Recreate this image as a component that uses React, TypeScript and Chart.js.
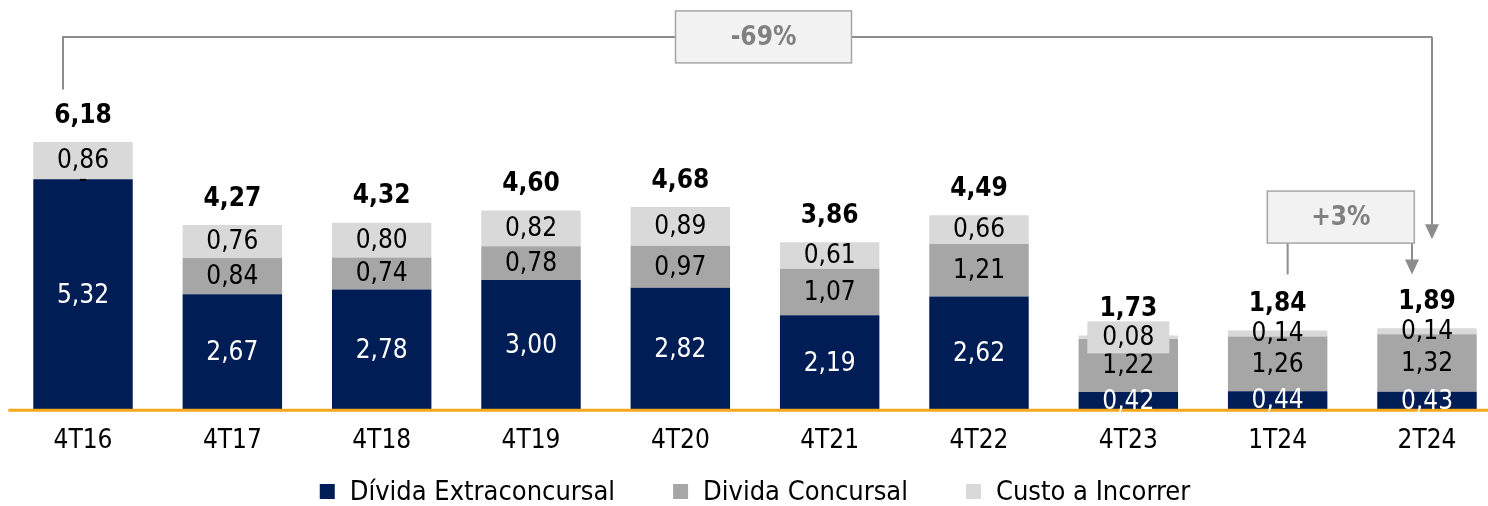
import React, { useEffect, useRef } from 'react';
import { Chart, registerables } from 'chart.js';

Chart.register(...registerables);

const categories = ['4T16', '4T17', '4T18', '4T19', '4T20', '4T21', '4T22', '4T23', '1T24', '2T24'];
const extraconcursal = [5.32, 2.67, 2.78, 3.0, 2.82, 2.19, 2.62, 0.42, 0.44, 0.43];
const concursal = [0, 0.84, 0.74, 0.78, 0.97, 1.07, 1.21, 1.22, 1.26, 1.32];
const custoIncorrer = [0.86, 0.76, 0.8, 0.82, 0.89, 0.61, 0.66, 0.08, 0.14, 0.14];
const totals = [6.18, 4.27, 4.32, 4.6, 4.68, 3.86, 4.49, 1.73, 1.84, 1.89];
const seriesNames = ['Dívida Extraconcursal', 'Divida Concursal', 'Custo a Incorrer'];
const changeLabels = ['-69%', '+3%'];

const FONT = "'DejaVu Sans Condensed', 'DejaVu Sans', sans-serif";
const COLORS = ['#001D55', '#A6A6A6', '#D9D9D9'];
const fmt = (v: number) => (v === 0 ? '-' : v.toFixed(2).replace('.', ','));

function arrowDown(ctx: CanvasRenderingContext2D, x: number, yTop: number, yTip: number) {
  const head = 15;
  const half = 7;
  ctx.beginPath();
  ctx.moveTo(x, yTop);
  ctx.lineTo(x, yTip - head + 1);
  ctx.stroke();
  ctx.beginPath();
  ctx.moveTo(x - half, yTip - head);
  ctx.lineTo(x + half, yTip - head);
  ctx.lineTo(x, yTip);
  ctx.closePath();
  ctx.fill();
}

function labelBox(ctx: CanvasRenderingContext2D, cx: number, cy: number, w: number, h: number, text: string) {
  ctx.fillStyle = '#F2F2F2';
  ctx.fillRect(cx - w / 2, cy - h / 2, w, h);
  ctx.strokeStyle = '#A6A6A6';
  ctx.lineWidth = 1.5;
  ctx.strokeRect(cx - w / 2, cy - h / 2, w, h);
  ctx.fillStyle = '#808080';
  ctx.font = `bold 26px ${FONT}`;
  ctx.textAlign = 'center';
  ctx.textBaseline = 'middle';
  ctx.fillText(text, cx, cy + 1);
}

const overlayPlugin = {
  id: 'overlay',
  afterDatasetsDraw(chart: any) {
    const ctx: CanvasRenderingContext2D = chart.ctx;
    const { left, right } = chart.chartArea;
    const ys = chart.scales.y;
    const base = ys.getPixelForValue(0);
    ctx.save();
    // baseline
    ctx.strokeStyle = '#F5A81C';
    ctx.lineWidth = 3;
    ctx.beginPath();
    ctx.moveTo(left, base);
    ctx.lineTo(right, base);
    ctx.stroke();

    // segment labels
    ctx.textAlign = 'center';
    ctx.textBaseline = 'middle';
    ctx.font = `26px ${FONT}`;
    chart.data.datasets.forEach((ds: any, di: number) => {
      const meta = chart.getDatasetMeta(di);
      meta.data.forEach((bar: any, i: number) => {
        const v = ds.data[i];
        const cy = (bar.y + bar.base) / 2;
        if (di === 2 && i === 7) {
          ctx.fillStyle = '#D9D9D9';
          ctx.fillRect(bar.x - 41, cy - 16, 82, 32);
        }
        ctx.fillStyle = di === 0 ? '#FFFFFF' : '#000000';
        ctx.fillText(fmt(v), bar.x, cy + 1);
      });
    });

    // totals
    ctx.font = `bold 26px ${FONT}`;
    ctx.fillStyle = '#000000';
    const topMeta = chart.getDatasetMeta(chart.data.datasets.length - 1);
    totals.forEach((t, i) => {
      const bar: any = topMeta.data[i];
      ctx.fillText(fmt(t), bar.x, bar.y - 26);
    });
    ctx.restore();
  },
  afterDraw(chart: any) {
    const ctx: CanvasRenderingContext2D = chart.ctx;
    const xs = chart.scales.x;
    const ys = chart.scales.y;
    const { left, right } = chart.chartArea;
    ctx.save();
    ctx.strokeStyle = '#8C8C8C';
    ctx.fillStyle = '#8C8C8C';
    ctx.lineWidth = 2;

    // -69% bracket
    const xa = xs.getPixelForValue(0) - 20;
    const xb = xs.getPixelForValue(categories.length - 1) + 5;
    const yBr = ys.getPixelForValue(8.6);
    const yL = ys.getPixelForValue(7.39);
    const yTip = ys.getPixelForValue(3.94);
    ctx.beginPath();
    ctx.moveTo(xa, yL);
    ctx.lineTo(xa, yBr);
    ctx.lineTo(xb, yBr);
    ctx.stroke();
    arrowDown(ctx, xb, yBr, yTip);
    labelBox(ctx, (xa + xb) / 2 + 16, yBr, 176, 52, changeLabels[0]);

    // +3% bracket
    ctx.strokeStyle = '#8C8C8C';
    ctx.fillStyle = '#8C8C8C';
    ctx.lineWidth = 2;
    const x1 = xs.getPixelForValue(8) + 10;
    const x2 = xs.getPixelForValue(9) - 15;
    const yBox = ys.getPixelForValue(4.45);
    const yEnd = ys.getPixelForValue(3.13);
    ctx.beginPath();
    ctx.moveTo(x1, yBox + 26);
    ctx.lineTo(x1, yEnd);
    ctx.stroke();
    arrowDown(ctx, x2, yBox + 26, yEnd);
    labelBox(ctx, (x1 + x2) / 2 - 9, yBox, 147, 52, changeLabels[1]);

    // legend
    ctx.font = `27px ${FONT}`;
    ctx.textAlign = 'left';
    ctx.textBaseline = 'middle';
    const box = 15;
    const gapBT = 15;
    const gapItems = 58;
    const widths = seriesNames.map((n) => ctx.measureText(n).width);
    const total = widths.reduce((a, w) => a + box + gapBT + w, 0) + gapItems * (seriesNames.length - 1);
    let x = (left + right) / 2 - total / 2;
    const ly = chart.height - 14.5;
    seriesNames.forEach((n, i) => {
      ctx.fillStyle = COLORS[i];
      ctx.fillRect(x, ly - box / 2, box, box);
      ctx.fillStyle = '#000000';
      ctx.fillText(n, x + box + gapBT, ly + 1);
      x += box + gapBT + widths[i] + gapItems;
    });
    ctx.restore();
  },
};

export default function App() {
  const ref = useRef<HTMLCanvasElement | null>(null);
  useEffect(() => {
    if (!ref.current) return;
    const chart = new Chart(ref.current, {
      type: 'bar',
      data: {
        labels: categories,
        datasets: [
          { label: seriesNames[0], data: extraconcursal, backgroundColor: COLORS[0] },
          { label: seriesNames[1], data: concursal, backgroundColor: COLORS[1] },
          { label: seriesNames[2], data: custoIncorrer, backgroundColor: COLORS[2] },
        ],
      },
      options: {
        responsive: true,
        maintainAspectRatio: false,
        animation: false,
        layout: { padding: { left: 8.35, right: 8.35, top: 0, bottom: 34.5 } },
        datasets: { bar: { categoryPercentage: 1, barPercentage: 0.666 } },
        plugins: { legend: { display: false }, tooltip: { enabled: false } },
        scales: {
          x: {
            stacked: true,
            grid: { display: false, drawTicks: false },
            border: { display: false },
            ticks: { color: '#000000', font: { family: FONT, size: 26 }, padding: 15, maxRotation: 0 },
          },
          y: { stacked: true, display: false, min: 0, max: 9.45 },
        },
      },
      plugins: [overlayPlugin],
    });
    return () => chart.destroy();
  }, []);
  return (
    <div style={{ position: 'absolute', left: 0, top: 0, width: 1488, height: 506, overflow: 'hidden', background: '#fff' }}>
      <div style={{ position: 'relative', width: 1510, height: 506 }}>
        <canvas ref={ref} style={{ display: 'block' }} />
      </div>
    </div>
  );
}
